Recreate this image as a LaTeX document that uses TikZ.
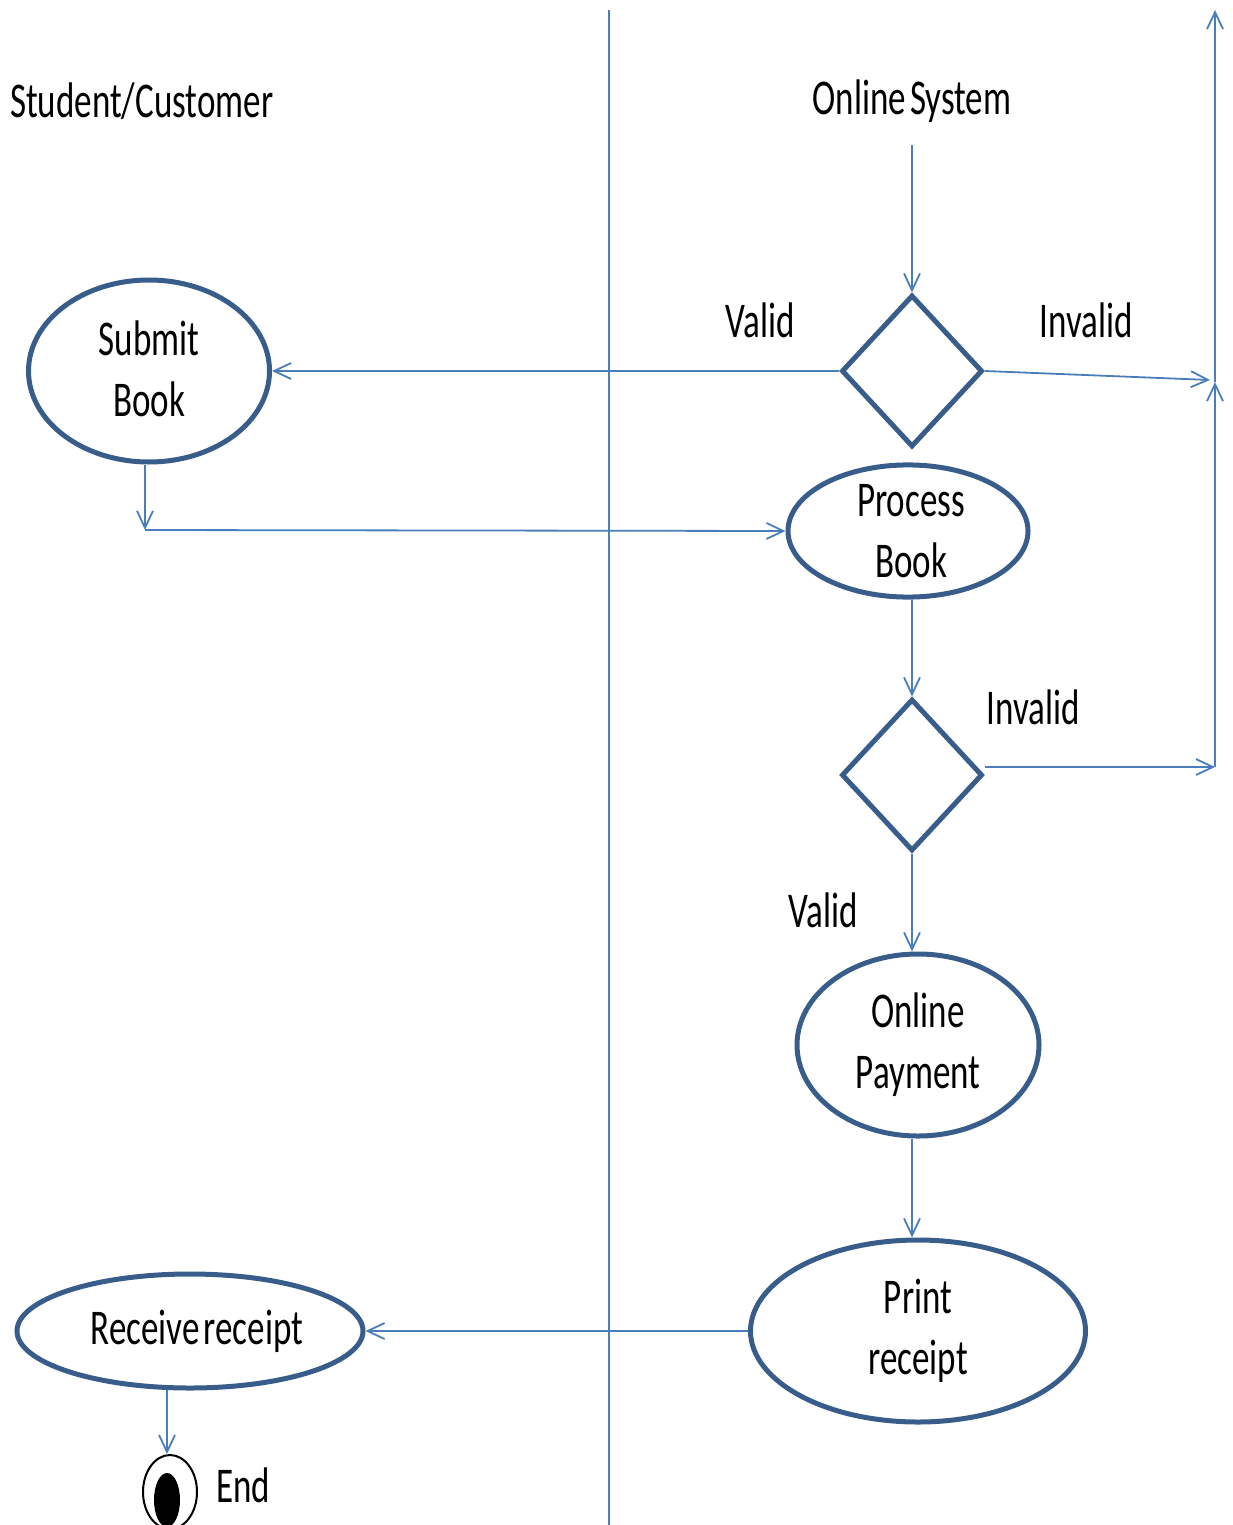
\documentclass[tikz,border=0pt]{standalone}
\usepackage{fontspec}
\setmainfont{Carlito}[FakeStretch=0.7]
\usetikzlibrary{shapes.geometric,arrows.meta}
\definecolor{connc}{HTML}{4A7EBB}
\definecolor{shapec}{HTML}{385D8A}
\begin{document}
\begin{tikzpicture}[x=1pt,y=-1pt,
  every node/.style={font=\fontsize{50}{61}\selectfont},
  conn/.style={draw=connc,line width=1.8pt},
  arr/.style={conn,-{Straight Barb[length=17pt,width=16pt,line width=1.8pt]}},
  act/.style={ellipse,draw=shapec,line width=5pt,inner sep=0pt,align=center},
  decision/.style={diamond,draw=shapec,line width=5pt,inner sep=0pt,
    minimum width=141pt,minimum height=152pt},
  lbl/.style={inner sep=0pt}]
\useasboundingbox (0,0) rectangle (1232,1525);

% swimlane divider
\draw[conn] (609,10) -- (609,1525);

% lane titles
\node[lbl,anchor=west] (lane1) at (10,101) {Student/Customer};
\node[lbl] (lane2) at (912,101) {Online\hspace{-4pt} System};
\coordinate (start) at (912,145);

% decisions
\node[decision] (d1) at (912,371) {};
\node[decision] (d2) at (912,775) {};

% activities
\node[act,minimum width=241pt,minimum height=182pt] (submit) at (149,371) {\raisebox{5pt}{Submit}\\\raisebox{5pt}{Book}};
\node[act,minimum width=240pt,minimum height=132pt] (process) at (908,531) {\raisebox{-4pt}{\hspace*{6pt}Process}\\\raisebox{-4pt}{\hspace*{6pt}Book}};
\node[act,minimum width=242pt,minimum height=182pt] (pay) at (918,1045) {Online\\Payment};
\node[act,minimum width=335pt,minimum height=182pt] (print) at (918,1331) {Print\\receipt};
\node[act,minimum width=346pt,minimum height=114pt] (receive) at (190,1331) {\hspace*{14pt}Receive\hspace{-4pt} receipt};

% final state
\node[ellipse,draw=black,line width=2pt,minimum width=54pt,minimum height=74pt,inner sep=0pt] (end) at (170,1492) {};
\node[ellipse,fill=black,minimum width=26pt,minimum height=54pt,inner sep=0pt] (endcore) at (167,1500) {};
\node[lbl,anchor=west] (endlbl) at (216,1485) {End};

% return line on the right edge
\coordinate (j2) at (1215,767);
\coordinate (j1) at (1215,382);
\coordinate (jin) at (1210,380);
\coordinate (top) at (1215,10);
\coordinate (bend) at (145,530);

% connectors
\draw[arr] (start) -- (d1.north);
\draw[arr] (d1.west) -- (submit.east);
\draw[arr] (d1.east) -- (jin);
\draw[arr] ([xshift=-4pt]submit.south) -- (bend);
\draw[arr] (bend) -- (process.west);
\draw[arr] (d2.north |- process.south) -- (d2.north);
\draw[arr] (d2.east |- j2) -- (j2);
\draw[arr] (j2) -- (j1);
\draw[arr] (j1) -- (top);
\draw[arr] (d2.south) -- (d2.south |- pay.north);
\draw[arr] (d2.south |- pay.south) -- (d2.south |- print.north);
\draw[arr] (print.west) -- (receive.east);
\draw[arr] (167,1390) -- (end.north -| 167,0);

% guard labels
\node[lbl] (v1) at (760,320) {Valid};
\node[lbl] (i1) at (1086,320) {Invalid};
\node[lbl] (i2) at (1033,707) {Invalid};
\node[lbl] (v2) at (823,910) {Valid};
\end{tikzpicture}
\end{document}
